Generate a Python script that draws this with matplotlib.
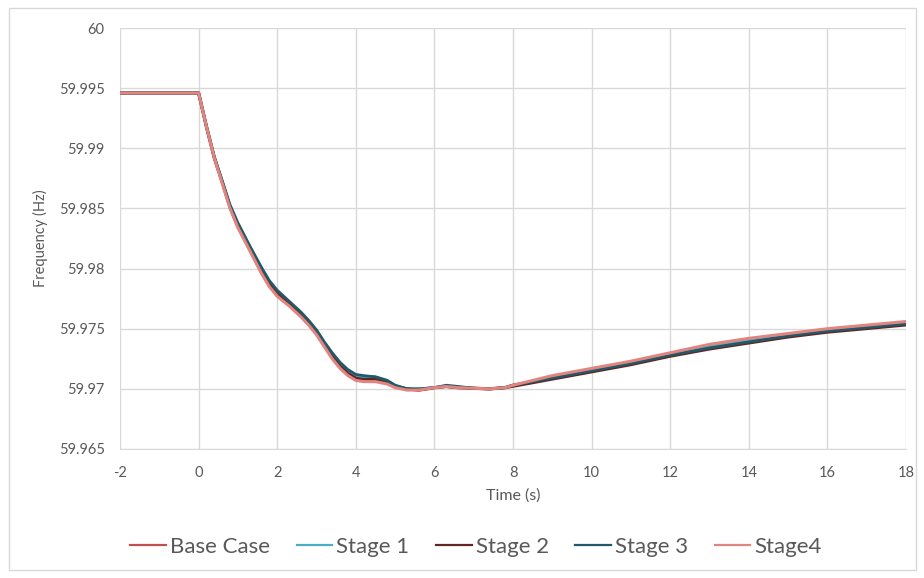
import matplotlib
matplotlib.use("Agg")
import matplotlib.pyplot as plt
from matplotlib.patches import Rectangle

# time axis (s)
time = [-2, 0, 0.2, 0.4, 0.6, 0.8, 1.0, 1.3, 1.6, 1.8, 2.0, 2.3, 2.6, 2.8, 3.0,
        3.2, 3.4, 3.6, 3.8, 4.0, 4.2, 4.5, 4.8, 5.0, 5.3, 5.6, 6.0, 6.3, 6.6,
        7.0, 7.4, 7.8, 8.0, 8.5, 9.0, 10, 11, 12, 13, 14, 15, 16, 17, 18]

# frequency (Hz)
base_case = [59.9946, 59.9946, 59.9918, 59.9892, 59.9872, 59.9851, 59.9835, 59.9816,
             59.9797, 59.9786, 59.9778, 59.9770, 59.9761, 59.9754, 59.9746, 59.9736,
             59.9726, 59.9718, 59.9712, 59.9708, 59.9707, 59.9707, 59.9705, 59.9702,
             59.9700, 59.9699, 59.9701, 59.9702, 59.9701, 59.97005, 59.9700, 59.9701,
             59.9703, 59.9706, 59.9710, 59.9716, 59.9722, 59.9729, 59.9736, 59.9741,
             59.9745, 59.9749, 59.9752, 59.9755]
stage1 = [59.9946, 59.9946, 59.9918, 59.9892, 59.9872, 59.9852, 59.9837, 59.9818,
          59.9800, 59.9789, 59.9781, 59.9772, 59.9763, 59.9756, 59.9748, 59.9738,
          59.9729, 59.9721, 59.9715, 59.9711, 59.9710, 59.9710, 59.9707, 59.9703,
          59.9700, 59.9700, 59.9701, 59.9702, 59.9701, 59.97005, 59.9700, 59.9701,
          59.9703, 59.9706, 59.9709, 59.9715, 59.9721, 59.9728, 59.9735, 59.9740,
          59.9744, 59.9748, 59.9751, 59.9754]
stage2 = [59.9946, 59.9946, 59.9918, 59.9892, 59.9872, 59.9851, 59.9835, 59.9817,
          59.9798, 59.9787, 59.9779, 59.9771, 59.9762, 59.9755, 59.9747, 59.9737,
          59.9727, 59.9719, 59.9713, 59.9709, 59.9708, 59.9708, 59.9706, 59.9702,
          59.9700, 59.9699, 59.9701, 59.9702, 59.9701, 59.97005, 59.9700, 59.9701,
          59.9702, 59.9705, 59.9708, 59.9714, 59.9720, 59.9727, 59.9733, 59.9738,
          59.9743, 59.9747, 59.9750, 59.9753]
stage3 = [59.9946, 59.9946, 59.9918, 59.9893, 59.9873, 59.9853, 59.9838, 59.9819,
          59.9801, 59.9790, 59.9782, 59.9773, 59.9764, 59.9757, 59.9749, 59.9739,
          59.9730, 59.9722, 59.9716, 59.9712, 59.9711, 59.9710, 59.9707, 59.9703,
          59.9700, 59.9700, 59.9701, 59.9703, 59.9702, 59.97005, 59.9700, 59.9701,
          59.9703, 59.9706, 59.9709, 59.9715, 59.9721, 59.9728, 59.9734, 59.9739,
          59.9744, 59.9748, 59.9751, 59.9754]
stage4 = [59.9946, 59.9946, 59.9918, 59.9892, 59.9871, 59.9850, 59.9834, 59.9815,
          59.9796, 59.9785, 59.9777, 59.9769, 59.9760, 59.9753, 59.9745, 59.9735,
          59.9725, 59.9717, 59.9711, 59.9707, 59.9706, 59.9706, 59.9704, 59.9701,
          59.9699, 59.9699, 59.9701, 59.9702, 59.9701, 59.97005, 59.9700, 59.9701,
          59.9703, 59.9707, 59.9711, 59.9717, 59.9723, 59.9730, 59.9737, 59.9742,
          59.9746, 59.9750, 59.9753, 59.9756]

series = [("Base Case", base_case, "#C0504D", 2.4),
          ("Stage 1", stage1, "#4BACC6", 2.0),
          ("Stage 2", stage2, "#632523", 2.0),
          ("Stage 3", stage3, "#215968", 2.0),
          ("Stage4", stage4, "#E0857F", 2.2)]

plt.rcParams['font.family'] = ['Lato', 'DejaVu Sans']
plt.rcParams['axes.unicode_minus'] = False

fig = plt.figure(figsize=(9.24, 5.78), dpi=100)
fig.patches.append(Rectangle((9 / 924, 1 - 570 / 578), 907 / 924, 562 / 578,
                             transform=fig.transFigure, fill=False,
                             edgecolor="#D9D9D9", linewidth=1))
ax = fig.add_axes([120 / 924, 1 - 449 / 578, 786 / 924, 421 / 578])

for name, vals, col, lw in series:
    ax.plot(time, vals, color=col, linewidth=lw, label=name)

ax.set_xlim(-2, 18)
ax.set_ylim(59.965, 60)
ax.set_xticks(range(-2, 19, 2))
ax.set_yticks([59.965, 59.97, 59.975, 59.98, 59.985, 59.99, 59.995, 60])
ax.set_yticklabels(["59.965", "59.97", "59.975", "59.98", "59.985", "59.99", "59.995", "60"])
ax.grid(True, color="#D9D9D9", linewidth=1)
ax.set_axisbelow(True)
for s in ["top", "right", "left"]:
    ax.spines[s].set_visible(False)
ax.spines["bottom"].set_color("#D9D9D9")
ax.tick_params(length=0, labelsize=10.5, labelcolor="#595959")
ax.tick_params(axis="y", pad=11)
ax.tick_params(axis="x", pad=12)

ax.set_xlabel("Time (s)", fontsize=11.5, color="#595959", labelpad=6)
ax.set_ylabel("Frequency (Hz)", fontsize=10.5, color="#595959", labelpad=8)

leg = fig.legend(loc="center", bbox_to_anchor=(476 / 924, 1 - 547 / 578), ncol=5,
                 frameon=False, fontsize=16, handlelength=1.6, handletextpad=0.18,
                 columnspacing=1.2, labelcolor="#595959")
for h in leg.get_lines():
    h.set_linewidth(1.6)

fig.savefig("out.png", dpi=100)
